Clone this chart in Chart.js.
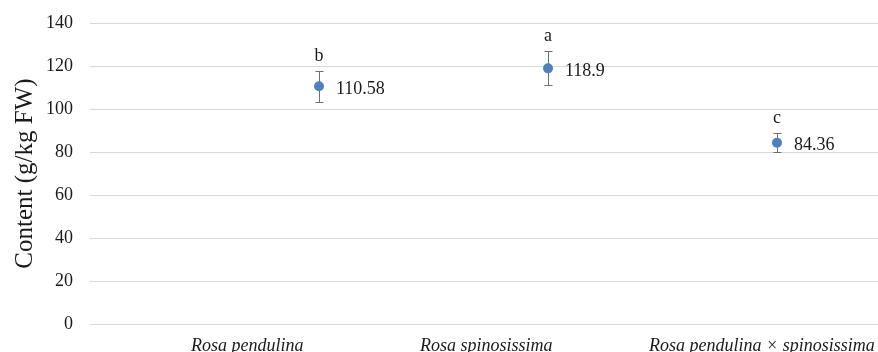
<!DOCTYPE html>
<html>
<head>
<meta charset="utf-8">
<script src="https://cdn.jsdelivr.net/npm/chart.js@4"></script>
<style>
html,body{margin:0;padding:0;background:#fff;}
canvas{display:block;}
</style>
</head>
<body>
<canvas id="c" width="878" height="352"></canvas>
<script>
const categories = ['Rosa pendulina', 'Rosa spinosissima', 'Rosa pendulina × spinosissima'];
const means = [110.58, 118.9, 84.36];
const errors = [7.2, 7.9, 4.3];
const letters = ['b', 'a', 'c'];
const yTicks = [0, 20, 40, 60, 80, 100, 120, 140];

const serif = '"Liberation Serif", "Times New Roman", serif';
const pointColor = '#4f81bd';

const errorPlugin = {
  id: 'errorBars',
  beforeDatasetsDraw(chart) {
    const {ctx, scales: {x, y}} = chart;
    ctx.save();
    ctx.strokeStyle = '#6f6f6f';
    ctx.lineWidth = 1;
    means.forEach((m, i) => {
      const px = Math.round(x.getPixelForValue(i + 1)) + 0.5;
      const yt = Math.round(y.getPixelForValue(m + errors[i])) + 0.5;
      const yb = Math.round(y.getPixelForValue(m - errors[i])) + 0.5;
      ctx.beginPath();
      ctx.moveTo(px, yt); ctx.lineTo(px, yb);
      ctx.moveTo(px - 4, yt); ctx.lineTo(px + 4, yt);
      ctx.moveTo(px - 4, yb); ctx.lineTo(px + 4, yb);
      ctx.stroke();
    });
    ctx.restore();
  },
  afterDatasetsDraw(chart) {
    const {ctx, scales: {x, y}} = chart;
    ctx.save();
    ctx.fillStyle = '#1a1a1a';
    ctx.font = '18px ' + serif;
    means.forEach((m, i) => {
      const px = x.getPixelForValue(i + 1);
      const py = y.getPixelForValue(m);
      const yt = y.getPixelForValue(m + errors[i]);
      ctx.textAlign = 'left';
      ctx.textBaseline = 'middle';
      ctx.fillText(String(m), px + 17, py + 3);
      ctx.textAlign = 'center';
      ctx.textBaseline = 'alphabetic';
      ctx.fillText(letters[i], px, yt - 10);
    });
    ctx.restore();
  }
};

new Chart(document.getElementById('c'), {
  type: 'scatter',
  data: {
    datasets: [{
      data: means.map((m, i) => ({x: i + 1, y: m})),
      backgroundColor: pointColor,
      borderColor: pointColor,
      borderWidth: 0,
      pointRadius: 5,
      pointHoverRadius: 5
    }]
  },
  options: {
    responsive: false,
    animation: false,
    events: [],
    layout: {autoPadding: false, padding: {top: 23, left: 0, right: 0, bottom: 0}},
    plugins: {legend: {display: false}, tooltip: {enabled: false}},
    scales: {
      x: {
        type: 'linear',
        min: 0,
        max: 3.441,
        grid: {display: false},
        border: {display: false},
        afterBuildTicks(scale) {
          scale.ticks = categories.map((c, i) => ({value: i + 1}));
        },
        afterFit(scale) {
          scale.height = 28;
          scale.paddingLeft = 0;
          scale.paddingRight = 0;
        },
        ticks: {
          autoSkip: false,
          maxRotation: 0,
          minRotation: 0,
          align: 'start',
          labelOffset: -128,
          padding: 3,
          color: '#1a1a1a',
          font: {family: serif, size: 18, style: 'italic'},
          callback: (v) => categories[v - 1]
        }
      },
      y: {
        min: 0,
        max: 140,
        afterBuildTicks(scale) {
          scale.ticks = yTicks.map(v => ({value: v}));
        },
        afterFit(scale) {
          scale.width = 90;
          scale.paddingTop = 0;
          scale.paddingBottom = 0;
        },
        grid: {color: '#d9d9d9', lineWidth: 1, drawTicks: false},
        border: {display: false},
        ticks: {
          padding: 17,
          color: '#1a1a1a',
          font: {family: serif, size: 18}
        },
        title: {
          display: true,
          text: 'Content (g/kg FW)',
          color: '#1a1a1a',
          font: {family: serif, size: 25},
          padding: {top: 10, bottom: 0}
        }
      }
    }
  },
  plugins: [errorPlugin]
});
</script>
</body>
</html>
